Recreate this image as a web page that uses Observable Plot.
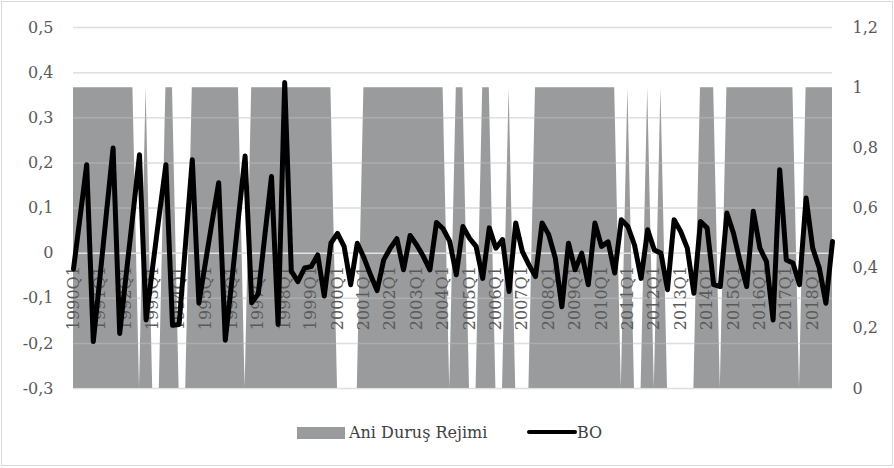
<!DOCTYPE html>
<html>
<head>
<meta charset="utf-8">
<script src="https://cdn.jsdelivr.net/npm/d3@7"></script>
<script src="https://cdn.jsdelivr.net/npm/@observablehq/plot@0.6"></script>
<style>
  body { margin: 0; background: #fff; }
  #wrap { position: relative; width: 894px; height: 468px; overflow: hidden; font-family: "DejaVu Serif", serif; }
  #chart { position: absolute; left: 0; top: 0; }
  #frame { position: absolute; left: 1px; top: 1px; width: 892px; height: 465px; box-sizing: border-box; border: 1.5px solid #d9d9d9; pointer-events: none; }
  .lg { position: absolute; font-size: 16px; line-height: 16px; color: #404040; white-space: nowrap; }
  #sw1 { position: absolute; left: 297px; top: 427px; width: 48px; height: 12px; background: #9a9b9d; }
  #sw2 { position: absolute; left: 527px; top: 430px; width: 50px; height: 4px; background: #000; border-radius: 2px; }
</style>
</head>
<body>
<div id="wrap">
  <div id="chart"></div>
  <div id="sw1"></div><div class="lg" style="left:349px;top:425px;">Ani Duruş Rejimi</div>
  <div id="sw2"></div><div class="lg" style="left:577px;top:425px;">BO</div>
  <div id="frame"></div>
</div>
<script>
// Years and quarters (categories)
const years = [1990,1991,1992,1993,1994,1995,1996,1997,1998,1999,2000,2001,2002,2003,2004,
               2005,2006,2007,2008,2009,2010,2011,2012,2013,2014,2015,2016,2017,2018];
const quarterNames = ["Q1","Q2","Q3","Q4"];
const categories = years.flatMap(y => quarterNames.map(q => `${y}${q}`));

// Tick labels shown on the category axis
const tickLabels = ["1990Q1","1991Q1","1992Q1","1993Q1","1994Q1","1995Q1","1996Q1","1997Q1","1998Q1","1999Q1",
                    "2000Q1","2001Q1","2002Q1","2003Q1","2004Q1","2005Q1","2006Q1","2007Q1","2008Q1","2009Q1",
                    "2010Q1","2011Q1","2012Q1","2013Q1","2014Q1","2015Q1","2016Q1","2017Q1","2018Q1"];

// BO series (left axis), one row per year
const bo = [
  -0.035, 0.080, 0.196, -0.196,   // 1990
  -0.055, 0.090, 0.233, -0.178,   // 1991
  -0.045, 0.085, 0.218, -0.148,   // 1992
  -0.030, 0.085, 0.196, -0.160,   // 1993
  -0.158, 0.025, 0.207, -0.111,   // 1994
  -0.020, 0.070, 0.156, -0.193,   // 1995
  -0.060, 0.080, 0.215, -0.110,   // 1996
  -0.090, 0.040, 0.170, -0.158,   // 1997
   0.378, -0.040, -0.063, -0.033, // 1998
  -0.030, -0.004, -0.095, 0.022,  // 1999
   0.044, 0.015, -0.070, 0.022,   // 2000
  -0.010, -0.048, -0.083, -0.015, // 2001
   0.011, 0.032, -0.037, 0.039,   // 2002
   0.018, -0.007, -0.037, 0.068,  // 2003
   0.054, 0.026, -0.048, 0.059,   // 2004
   0.033, 0.015, -0.056, 0.056,   // 2005
   0.011, 0.030, -0.085, 0.067,   // 2006
   0.004, -0.026, -0.052, 0.067,  // 2007
   0.041, -0.011, -0.119, 0.022,  // 2008
  -0.037, 0.000, -0.070, 0.067,   // 2009
   0.015, 0.025, -0.044, 0.074,   // 2010
   0.059, 0.018, -0.056, 0.052,   // 2011
   0.007, 0.000, -0.081, 0.074,   // 2012
   0.048, 0.011, -0.089, 0.070,   // 2013
   0.056, -0.070, -0.074, 0.089,  // 2014
   0.044, -0.019, -0.074, 0.093,  // 2015
   0.011, -0.019, -0.148, 0.185,  // 2016
  -0.015, -0.022, -0.070, 0.122,  // 2017
   0.011, -0.033, -0.111, 0.026   // 2018
];

// Ani Duruş Rejimi (right axis, 0/1), one row per year
const regime = [
  1,1,1,1,  1,1,1,1,  1,1,0,1,  0,0,1,1,  0,0,1,1,  1,1,1,1,  1,1,0,1,  1,1,1,1,
  1,1,1,1,  1,1,1,1,  0,0,0,0,  1,1,1,1,  1,1,1,1,  1,1,1,1,  1,0,1,1,  0,0,1,1,
  0,0,1,0,  0,0,1,1,  1,1,1,1,  1,1,1,1,  1,1,1,0,  1,0,0,1,  0,1,0,0,  0,0,0,1,
  1,1,0,1,  1,1,1,1,  1,1,1,1,  1,1,0,1,  1,1,1,1
];

// Axis ticks
const leftTicks = [-0.3, -0.2, -0.1, 0, 0.1, 0.2, 0.3, 0.4, 0.5];
const rightTicks = [0, 0.2, 0.4, 0.6, 0.8, 1, 1.2];

// Secondary axis [0, 1.2] is drawn on the primary [-0.3, 0.5] range
const toLeft = r => -0.3 + r * (0.8 / 1.2);
const toRight = v => (v + 0.3) * (1.2 / 0.8);
const fmt = v => String(Math.round(v * 10) / 10).replace(".", ",");

const data = categories.map((q, i) => ({i, q, bo: bo[i], regime: regime[i]}));
const tickData = tickLabels.map(l => ({i: categories.indexOf(l), label: l}));

const chart = Plot.plot({
  width: 894,
  height: 410,
  marginTop: 27,
  marginBottom: 22,
  marginLeft: 73,
  marginRight: 62,
  x: {domain: [0, categories.length - 1], axis: null},
  y: {domain: [-0.3, 0.5], axis: null},
  style: {fontFamily: "'DejaVu Serif', serif", fontSize: "16px", color: "#595959", background: "transparent"},
  marks: [
    Plot.ruleY(leftTicks, {stroke: "#d9d9d9", strokeWidth: 1.5}),
    Plot.areaY(data, {x: "i", y1: -0.3, y2: d => toLeft(d.regime), fill: "#9a9b9d", curve: "linear"}),
    Plot.ruleY(leftTicks.filter(t => t !== 0), {stroke: "#ffffff", strokeOpacity: 0.18, strokeWidth: 1.5}),
    Plot.ruleY([0], {stroke: "#e2e2e2", strokeWidth: 1.5}),
    Plot.axisY(leftTicks, {anchor: "left", tickSize: 0, tickPadding: 20, tickFormat: fmt, label: null, fill: "#595959"}),
    Plot.axisY(rightTicks.map(toLeft), {anchor: "right", tickSize: 0, tickPadding: 20, tickFormat: d => fmt(toRight(d)), label: null, fill: "#595959"}),
    Plot.text(tickData, {x: "i", y: 0, text: "label", rotate: -90, textAnchor: "end", dy: 13, fill: "#5a5a5a", fontSize: 16}),
    Plot.lineY(data, {x: "i", y: "bo", stroke: "#000", strokeWidth: 5, strokeLinejoin: "round", strokeLinecap: "round"})
  ]
});
document.getElementById("chart").appendChild(chart);
</script>
</body>
</html>
